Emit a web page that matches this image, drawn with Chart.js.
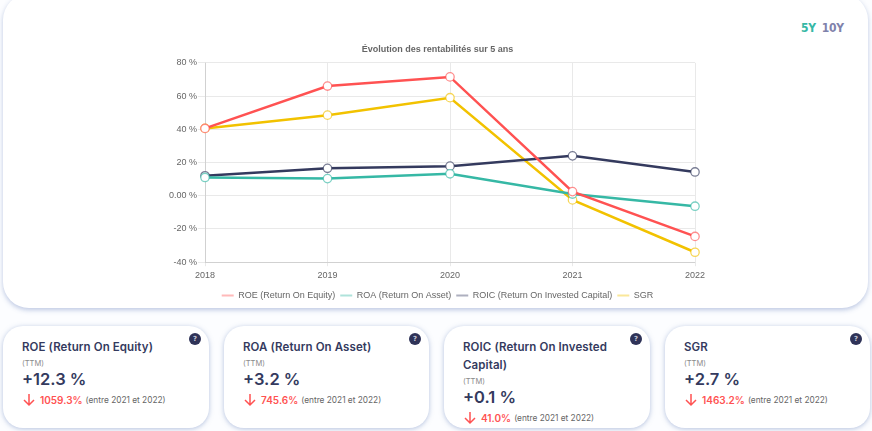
<!DOCTYPE html>
<html lang="fr">
<head>
<meta charset="utf-8">
<title>Évolution des rentabilités</title>
<script src="https://cdn.jsdelivr.net/npm/chart.js@4"></script>
<style>
  html, body { margin: 0; padding: 0; background: #fcfdff; }
  body { width: 872px; height: 431px; position: relative; overflow: hidden; font-family: Inter, "Noto Sans", sans-serif; color: #343a5e; }
  .panel { position: absolute; left: 3px; top: -6px; width: 865px; height: 314px; background: #fff; border-radius: 26px; box-shadow: 0 2px 5px rgba(110,135,190,.45); }
  .range { position: absolute; left: 801px; top: 21px; font: bold 12px "DejaVu Sans Condensed", "DejaVu Sans", sans-serif; letter-spacing: -.3px; }
  .range .on { color: #36b8a5; margin-right: 6px; }
  .range .off { color: #7f82ab; }
  #chartBox { position: absolute; left: 155px; top: 39px; width: 565px; height: 271px; }
  .card { position: absolute; top: 326px; height: 102px; background: #fff; border-radius: 20px; box-shadow: 0 1px 5px rgba(110,135,190,.5); box-sizing: border-box; padding: 12px 19px 0; }
  .card h3 { margin: 0; font-size: 11.5px; line-height: 18px; font-weight: 600; letter-spacing: .1px; }
  .card small { display: block; font-size: 7.5px; line-height: 9px; margin-top: 3px; color: #8a8a8a; }
  .card .value { font-size: 16.5px; line-height: 22px; font-weight: 600; }
  .card .change { display: flex; align-items: center; font-size: 8.3px; line-height: 14px; margin-top: 3px; color: #666; white-space: nowrap; }
  .card .change svg { margin-right: 4px; }
  .card .change b { color: #ff5252; font-size: 10px; font-weight: 600; margin-right: 3px; }
  .help { position: absolute; right: 8px; top: 7px; width: 12px; height: 12px; border-radius: 50%; background: #2f3358; color: #c8cad8; font: bold 7px/12px "DejaVu Sans", sans-serif; text-align: center; }
</style>
</head>
<body>
<div class="panel"></div>
<div class="range"><span class="on">5Y</span><span class="off">10Y</span></div>
<div id="chartBox"><canvas id="rentChart"></canvas></div>
<div id="cards"></div>

<script>
const years = ['2018', '2019', '2020', '2021', '2022'];
const roe = [40.5, 66, 71.5, 2.5, -24.5];
const roa = [11, 10.3, 13.2, 1, -6.3];
const roic = [12, 16.5, 17.8, 24, 14.3];
const sgr = [40.5, 48.5, 59, -2.5, -34];

const cardTitles = ['ROE (Return On Equity)', 'ROA (Return On Asset)', 'ROIC (Return On Invested Capital)', 'SGR'];
const cardValues = ['+12.3 %', '+3.2 %', '+0.1 %', '+2.7 %'];
const cardChanges = ['1059.3%', '745.6%', '41.0%', '1463.2%'];
const cardLefts = [3, 224, 444, 665];
const cardWidths = [206, 205, 206, 205];

const arrow = '<svg width="14" height="14" viewBox="0 0 14 14"><path d="M7 1v11M2 7l5 5 5-5" fill="none" stroke="#ff5252" stroke-width="1.5"/></svg>';
document.getElementById('cards').innerHTML = cardTitles.map((title, i) => `
  <div class="card" style="left:${cardLefts[i]}px;width:${cardWidths[i]}px">
    <span class="help">?</span>
    <h3>${title}</h3>
    <small>(TTM)</small>
    <div class="value">${cardValues[i]}</div>
    <div class="change">${arrow}<b>${cardChanges[i]}</b>(entre 2021 et 2022)</div>
  </div>`).join('');

function line(label, data, rgb) {
  return {
    label, data,
    borderColor: `rgb(${rgb})`,
    backgroundColor: `rgba(${rgb},.4)`,
    borderWidth: 2.5,
    tension: 0,
    pointRadius: 4.2,
    pointBorderWidth: 1.3,
    pointBorderColor: `rgba(${rgb},.65)`,
    pointBackgroundColor: '#fff',
  };
}

new Chart(document.getElementById('rentChart'), {
  type: 'line',
  data: {
    labels: years,
    // first dataset is painted on top, same as the original
    datasets: [
      line('ROE (Return On Equity)', roe, '255,82,82'),
      line('ROA (Return On Asset)', roa, '54,184,165'),
      line('ROIC (Return On Invested Capital)', roic, '52,58,94'),
      line('SGR', sgr, '242,194,0'),
    ],
  },
  options: {
    responsive: true,
    maintainAspectRatio: false,
    animation: false,
    scales: {
      x: {
        afterFit: s => { s.height += 1; },
        grid: { color: '#e9e9e9', tickLength: 4 },
        ticks: { color: '#666', padding: 4, font: { family: 'Liberation Sans', size: 9 } },
      },
      y: {
        min: -40, max: 80,
        afterFit: s => { s.width = 50; },
        grid: { color: '#e9e9e9', tickLength: 7 },
        ticks: {
          stepSize: 20,
          padding: 1,
          color: '#666',
          font: { family: 'Liberation Sans', size: 9 },
          callback: v => (v === 0 ? '0.00 %' : v + ' %'),
        },
      },
      // empty axis: narrows the plot on the right, title and legend stay centred on the canvas
      spacer: {
        position: 'right',
        afterFit: s => { s.width = 25; },
        grid: { display: false },
        border: { display: false },
        ticks: { display: false },
      },
    },
    plugins: {
      title: {
        display: true,
        text: 'Évolution des rentabilités sur 5 ans',
        color: '#666',
        font: { family: 'Liberation Sans', size: 9, weight: 'bold' },
        padding: { top: 5, bottom: 8 },
      },
      legend: {
        position: 'bottom',
        labels: {
          color: '#666',
          boxWidth: 12,
          boxHeight: 2,
          padding: 5,
          font: { family: 'Liberation Sans', size: 9 },
          generateLabels: chart => chart.data.datasets.map((d, i) => ({
            text: d.label,
            fillStyle: d.backgroundColor,
            strokeStyle: d.backgroundColor,
            lineWidth: 0,
            fontColor: '#666',
            datasetIndex: i,
          })),
        },
      },
      tooltip: { enabled: false },
    },
  },
});
</script>
</body>
</html>
